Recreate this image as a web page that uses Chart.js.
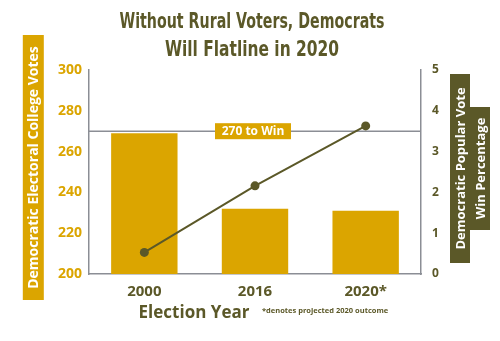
<!DOCTYPE html>
<html>
<head>
<meta charset="utf-8">
<script src="https://cdn.jsdelivr.net/npm/chart.js@4.4.0/dist/chart.umd.min.js"></script>
<style>
  html, body { margin: 0; padding: 0; background: #fff; }
  #wrap { width: 500px; height: 341px; }
</style>
</head>
<body>
<div id="wrap"><canvas id="ruralChart" width="500" height="341"></canvas></div>
<script>
// values
const years = ["2000", "2016", "2020*"];
const electoralVotes = [269, 232, 231];
const popularVoteMargin = [0.53, 2.16, 3.63];
const leftTicks = [200, 220, 240, 260, 280, 300];
const rightTicks = [0, 1, 2, 3, 4, 5];
const winLine = 270;

const GOLD = "#dba500";
const OLIVE = "#5b5828";
const GRAY = "#8b8e95";
const BODY = "'Open Sans', 'DejaVu Sans', sans-serif";
const NARROW = "'Liberation Sans Narrow', 'DejaVu Sans Condensed', sans-serif";

// draws text squeezed to a target width (title uses a condensed face)
function fitText(ctx, text, cx, cy, maxW) {
  const w = ctx.measureText(text).width;
  const s = Math.min(1, maxW / w);
  ctx.save();
  ctx.translate(cx, cy);
  ctx.scale(s, 1);
  ctx.fillText(text, 0, 0);
  ctx.restore();
}

function vBox(ctx, text, cx, cy, len, thick, bg, font) {
  ctx.save();
  ctx.translate(cx, cy);
  ctx.rotate(-Math.PI / 2);
  ctx.fillStyle = bg;
  ctx.fillRect(-len / 2, -thick / 2, len, thick);
  ctx.font = font;
  ctx.fillStyle = "#fff";
  ctx.textAlign = "center";
  ctx.textBaseline = "middle";
  fitText(ctx, text, 0, 1, len - 6);
  ctx.restore();
}

const deco = {
  id: "deco",
  beforeDatasetsDraw(chart) {
    const { ctx, chartArea } = chart;
    const y = chart.scales.y.getPixelForValue(winLine);
    ctx.save();
    ctx.strokeStyle = GRAY;
    ctx.lineWidth = 1.5;
    ctx.beginPath();
    ctx.moveTo(chartArea.left, y);
    ctx.lineTo(chartArea.right, y);
    ctx.stroke();
    // label box
    const cx = 253;
    ctx.fillStyle = GOLD;
    ctx.fillRect(cx - 38, y - 8, 76, 16);
    ctx.font = "bold 12px " + BODY;
    ctx.fillStyle = "#fff";
    ctx.textAlign = "center";
    ctx.textBaseline = "middle";
    ctx.fillText(winLine + " to Win", cx, y + 0.5);
    ctx.restore();
  },
  afterDraw(chart) {
    const { ctx } = chart;
    ctx.save();
    // title
    ctx.fillStyle = OLIVE;
    ctx.font = "bold 22px " + NARROW;
    ctx.textAlign = "center";
    ctx.textBaseline = "middle";
    fitText(ctx, "Without Rural Voters, Democrats", 252, 22, 265);
    fitText(ctx, "Will Flatline in 2020", 252, 50, 174);

    // axis titles
    vBox(ctx, "Democratic Electoral College Votes", 33.3, 167.5, 265, 21, GOLD, "bold 14px " + BODY);
    vBox(ctx, "Democratic Popular Vote", 460, 168.5, 189, 20, OLIVE, "bold 13px " + BODY);
    vBox(ctx, "Win Percentage", 480, 168.5, 123, 20, OLIVE, "bold 13px " + BODY);

    // x title + footnote
    ctx.fillStyle = OLIVE;
    ctx.textAlign = "center";
    ctx.font = "bold 17px " + BODY;
    ctx.fillText("Election Year", 194, 313);
    ctx.font = "bold 7.5px " + BODY;
    ctx.textAlign = "left";
    fitText(ctx, "*denotes projected 2020 outcome", 262, 311, 128);
    ctx.restore();
  }
};

new Chart(document.getElementById("ruralChart").getContext("2d"), {
  data: {
    labels: years,
    datasets: [
      {
        type: "line",
        data: popularVoteMargin,
        yAxisID: "y1",
        borderColor: OLIVE,
        backgroundColor: OLIVE,
        borderWidth: 2,
        pointRadius: 4.5,
        pointBackgroundColor: OLIVE,
        pointBorderWidth: 0,
        tension: 0,
        order: 0
      },
      {
        type: "bar",
        data: electoralVotes,
        yAxisID: "y",
        backgroundColor: GOLD,
        categoryPercentage: 1,
        barPercentage: 0.6,
        order: 1
      }
    ]
  },
  options: {
    responsive: false,
    animation: false,
    layout: { padding: { top: 70, left: 0, right: 0, bottom: 0 } },
    plugins: { legend: { display: false }, tooltip: { enabled: false }, title: { display: false } },
    scales: {
      x: {
        grid: { display: false, drawTicks: false },
        border: { display: true, color: GRAY, width: 1.5 },
        ticks: { color: OLIVE, font: { family: BODY, size: 15, weight: "bold" }, padding: 9 },
        afterFit: s => { s.height = 67; }
      },
      y: {
        position: "left",
        min: 200, max: 300,
        afterBuildTicks: s => { s.ticks = leftTicks.map(v => ({ value: v })); },
        grid: { display: false, drawTicks: false },
        border: { display: true, color: GRAY, width: 1.5 },
        ticks: { color: GOLD, font: { family: BODY, size: 14, weight: "bold" }, padding: 7 },
        afterFit: s => { s.width = 89; }
      },
      y1: {
        position: "right",
        min: 0, max: 5,
        afterBuildTicks: s => { s.ticks = rightTicks.map(v => ({ value: v })); },
        grid: { display: false, drawTicks: false },
        border: { display: true, color: GRAY, width: 1.5 },
        ticks: { color: OLIVE, font: { family: BODY, size: 12, weight: "bold" }, padding: 11 },
        afterFit: s => { s.width = 79; }
      }
    }
  },
  plugins: [deco]
});
</script>
</body>
</html>
